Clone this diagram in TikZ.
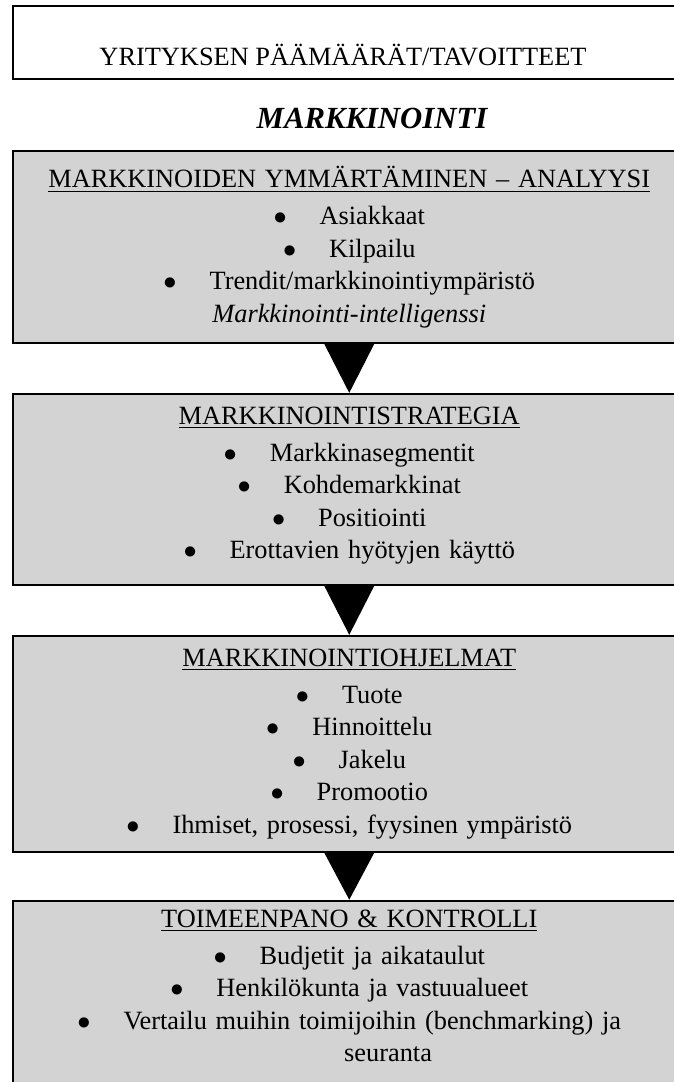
\documentclass[tikz,border=0pt]{standalone}
\usepackage{fontspec}
\setmainfont{Liberation Serif}
\usepackage{xcolor}
\definecolor{BoxGray}{RGB}{211,211,211}
\usetikzlibrary{positioning}
\newcommand{\kohta}[1]{$\bullet$\hspace{1.25em}#1}

\begin{document}
\begin{tikzpicture}[
  x=0.016cm, y=0.016cm,
  every node/.style={font=\fontsize{12}{14.8}\selectfont},
  tavoite/.style={draw, line width=0.032cm, fill=white,
                  minimum width=10.776cm, minimum height=1.168cm},
  vaihe/.style={draw, line width=0.032cm, fill=BoxGray,
                minimum width=10.776cm, text width=10.4cm,
                align=center, inner sep=0pt},
  otsikko/.style={font=\fontsize{14}{16}\selectfont\bfseries\itshape},
  kolmio/.style={fill=black},
  node distance=0.784cm
]
  \useasboundingbox (0,0) rectangle (674,-1082);

  \node[tavoite] (goal) at (349.25,-42.5) {};
  \node (goaltxt) at (343,-55) {YRITYKSEN PÄÄMÄÄRÄT/TAVOITTEET};

  \node[otsikko] (mk) at (372,-118) {MARKKINOINTI};

  \node[vaihe, minimum height=3.072cm, anchor=north] (b1) at (349.25,-150)
    {\underline{MARKKINOIDEN YMMÄRTÄMINEN – ANALYYSI}\\[2pt]
     \kohta{Asiakkaat}\\
     \kohta{Kilpailu}\\
     \kohta{Trendit/markkinointiympäristö}\\
     \textit{Markkinointi-intelligenssi}};
  \node[vaihe, minimum height=3.056cm, below=of b1] (b2)
    {\underline{MARKKINOINTISTRATEGIA}\\[2pt]
     \kohta{Markkinasegmentit}\\
     \kohta{Kohdemarkkinat}\\
     \kohta{Positiointi}\\
     \kohta{Erottavien hyötyjen käyttö}\\[-9pt]\mbox{}};
  \node[vaihe, minimum height=3.456cm, below=of b2] (b3)
    {\underline{MARKKINOINTIOHJELMAT}\\[2pt]
     \kohta{Tuote}\\
     \kohta{Hinnoittelu}\\
     \kohta{Jakelu}\\
     \kohta{Promootio}\\
     \kohta{Ihmiset, prosessi, fyysinen ympäristö}};
  \node[vaihe, minimum height=3.136cm, below=0.752cm of b3] (b4)
    {\underline{TOIMEENPANO \& KONTROLLI}\\[2pt]
     \kohta{Budjetit ja aikataulut}\\
     \kohta{Henkilökunta ja vastuualueet}\\
     \kohta{Vertailu muihin toimijoihin (benchmarking) ja}\\
     \hspace*{2.95em}seuranta\\[-3pt]\mbox{}};

  % kolmiot laatikoiden valissa
  \fill[kolmio] ([xshift=-0.4cm]b1.south) -- (b2.north) -- ([xshift=0.4cm]b1.south) -- cycle;
  \fill[kolmio] ([xshift=-0.4cm]b2.south) -- (b3.north) -- ([xshift=0.4cm]b2.south) -- cycle;
  \fill[kolmio] ([xshift=-0.4cm]b3.south) -- (b4.north) -- ([xshift=0.4cm]b3.south) -- cycle;
\end{tikzpicture}
\end{document}
